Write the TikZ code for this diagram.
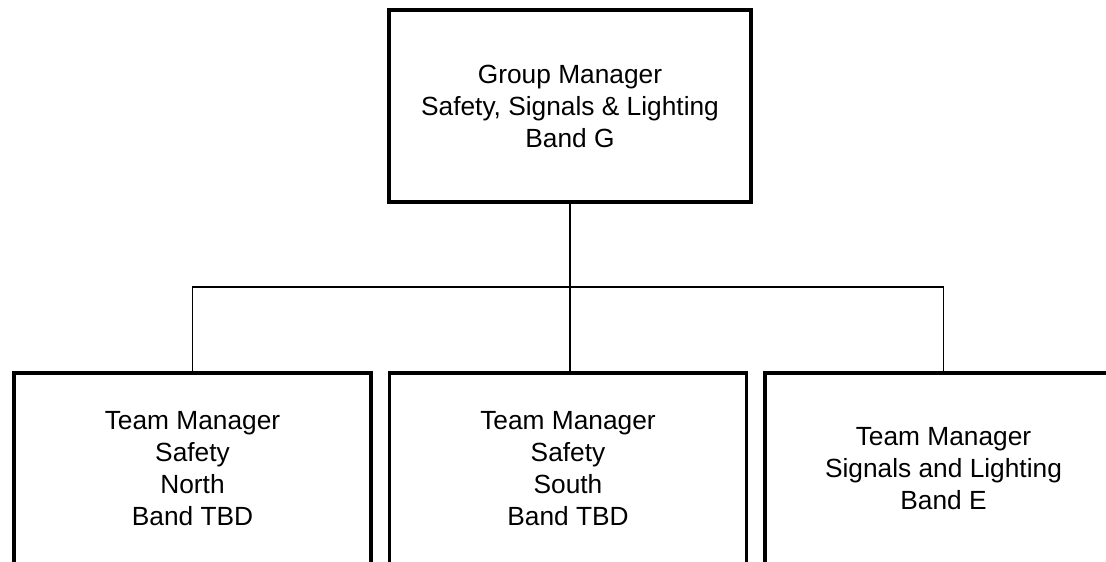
\documentclass[tikz,border=0pt]{standalone}
\usepackage{fontspec}
\setmainfont{Liberation Sans}
\usepackage{tikz}

\tikzset{
    post/.style={draw, line width=3.2pt, align=center, inner sep=0pt,
        minimum height=192pt, font=\fontsize{26.3}{32}\selectfont},
    link/.style={line width=1.6pt}
}

\begin{document}
\begin{tikzpicture}[x=1pt, y=-1pt]
    \useasboundingbox (0,0) rectangle (1106,562);
    \node[post, minimum width=362pt] (group) at (570,106) {Group Manager\\Safety, Signals \& Lighting\\Band G};
    \node[post, minimum width=357pt] (north) at (192.5,469) {Team Manager\\Safety\\North\\Band TBD};
    \node[post, minimum width=357pt] (south) at (568,469) {Team Manager\\Safety\\South\\Band TBD};
    \node[post, minimum width=357pt] (signals) at (943.5,469) {Team Manager\\Signals and Lighting\\Band E};
    \coordinate (bus) at (570,287);
    \draw[link] (group.south) -- (bus);
    \draw[link] (north.north) |- (bus) -| (signals.north);
    \draw[link] (bus) -- (bus |- south.north);
\end{tikzpicture}
\end{document}
